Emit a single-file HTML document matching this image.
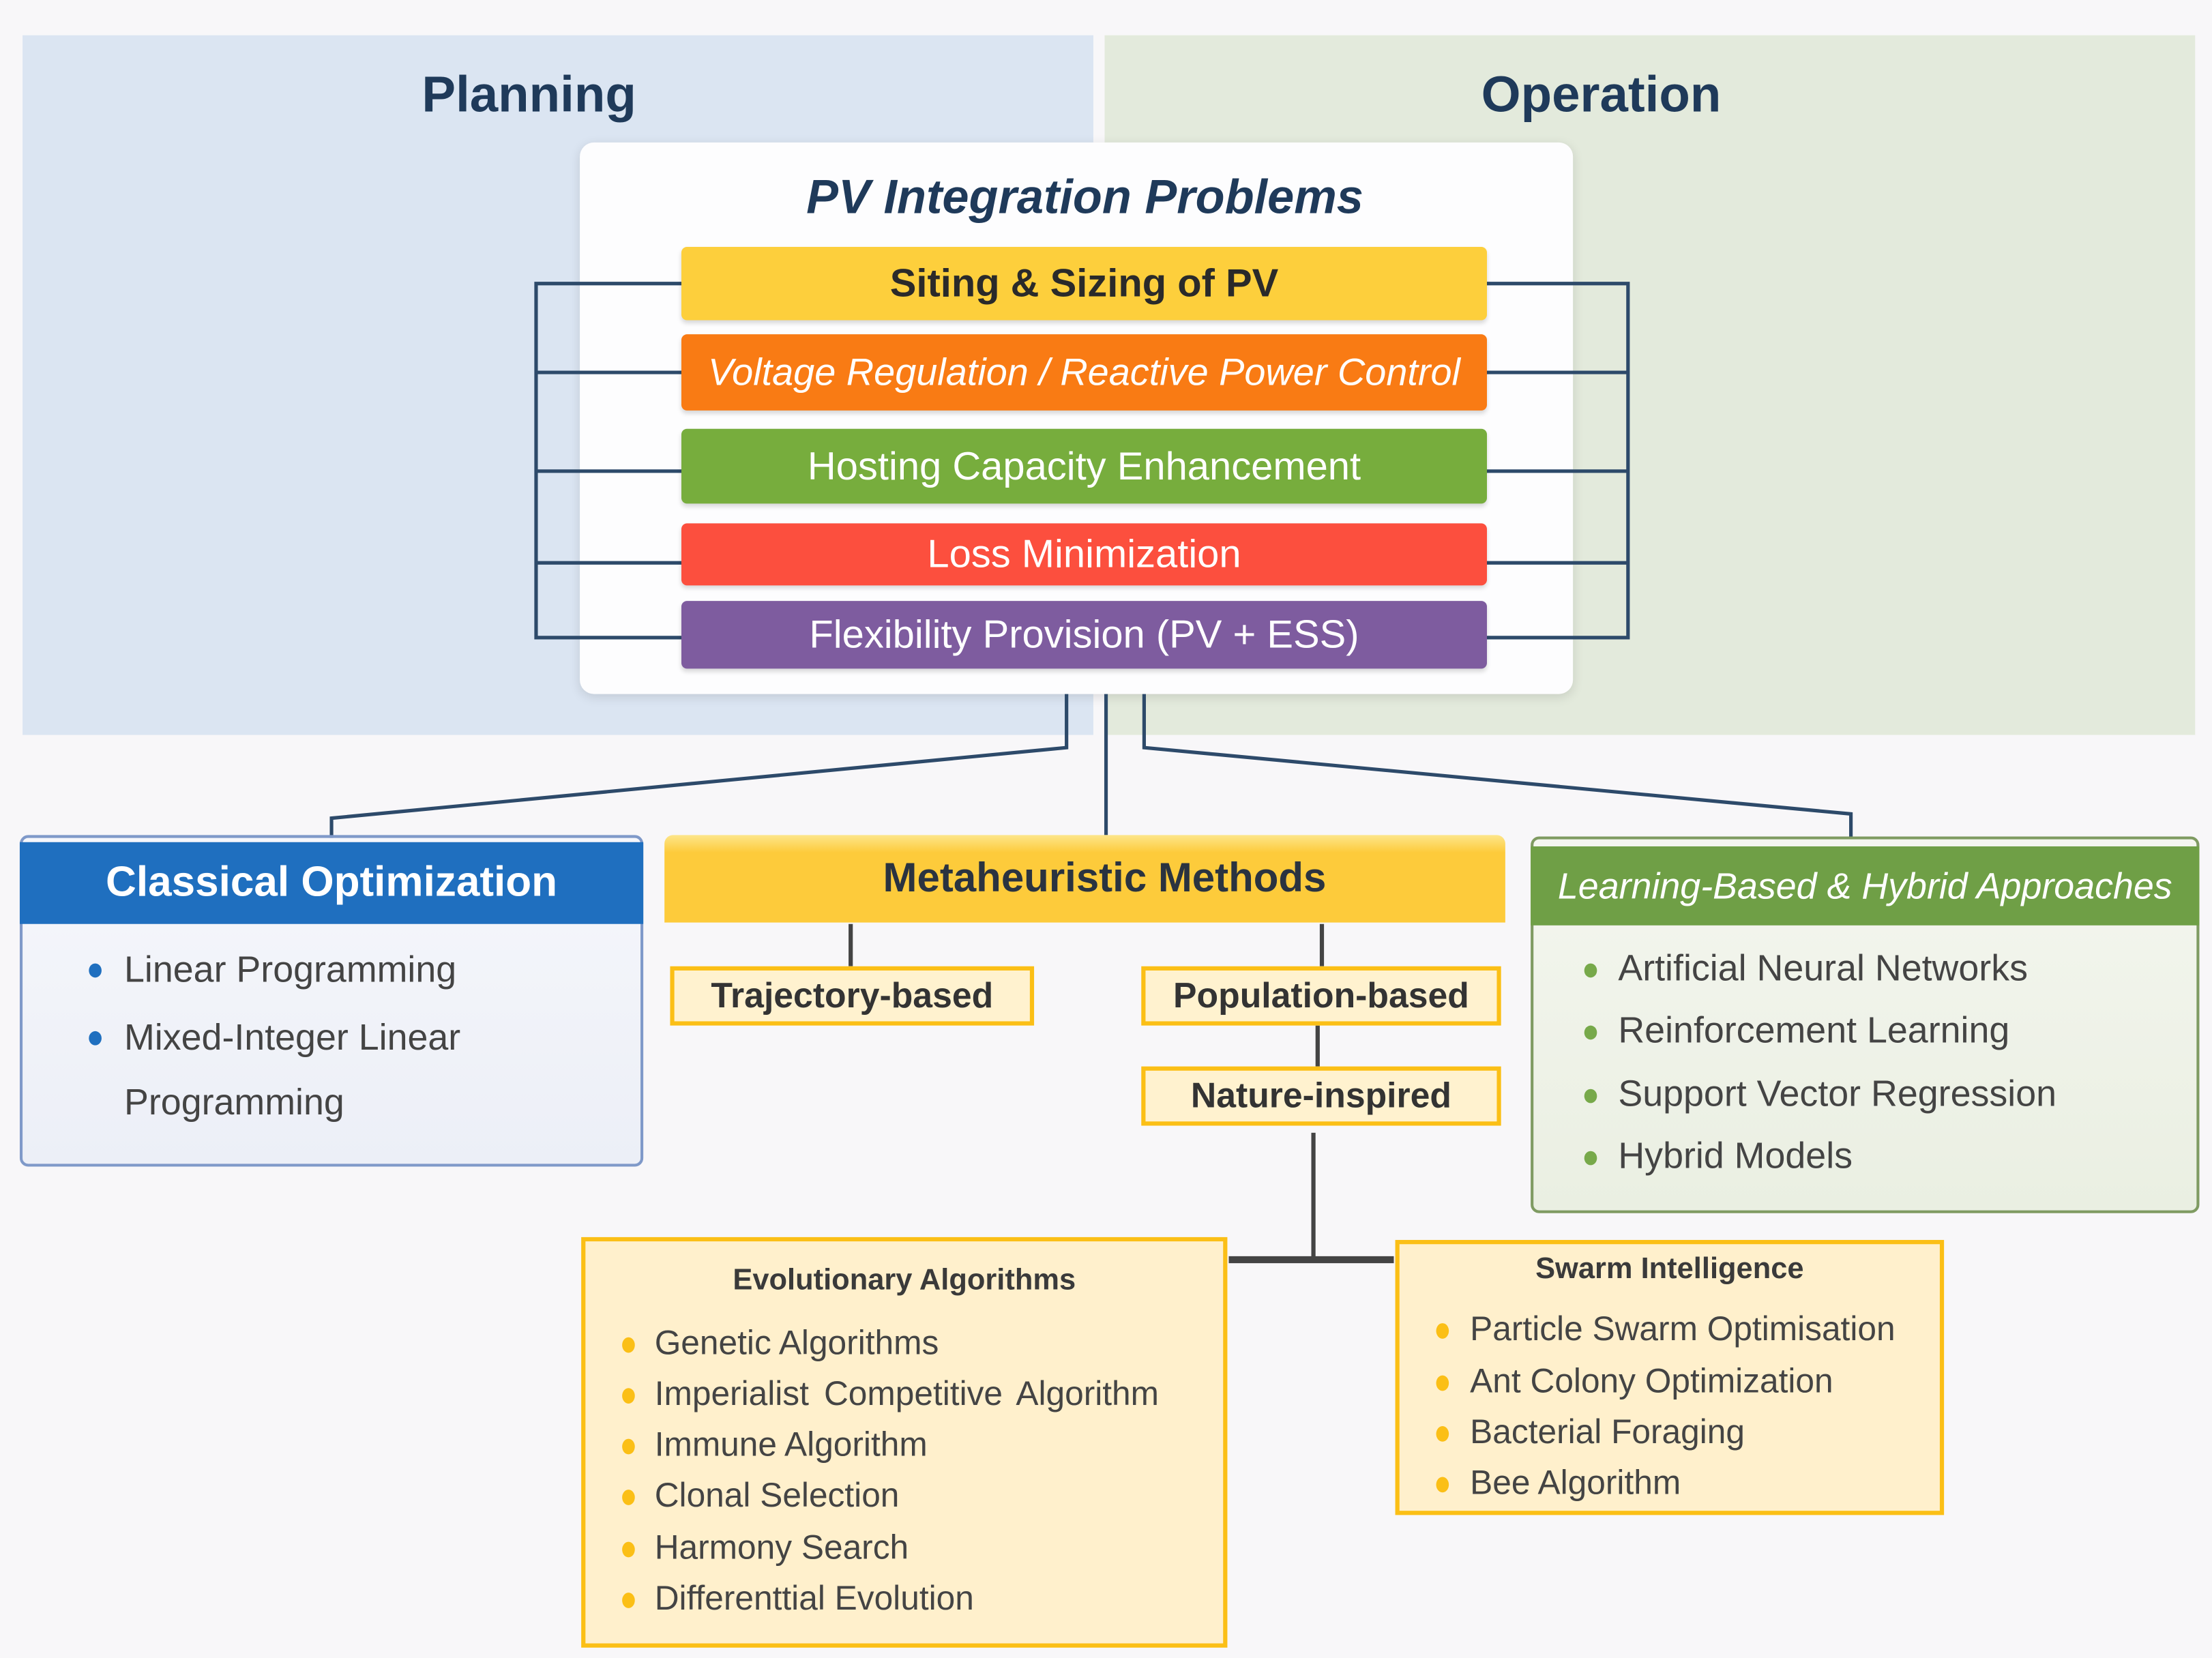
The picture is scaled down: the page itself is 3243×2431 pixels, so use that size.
<!DOCTYPE html>
<html><head><meta charset="utf-8"><style>
html,body{margin:0;padding:0;background:#f8f7f9;}
body{width:3243px;height:2431px;overflow:hidden;position:relative;font-family:"Liberation Sans","DejaVu Sans",sans-serif;}
#s{position:absolute;left:0;top:0;width:1568px;height:1175px;transform:scale(2.0683);transform-origin:0 0;}
.a{position:absolute;box-sizing:border-box;}
.c{display:flex;align-items:center;justify-content:center;}
.bar{left:483px;width:571px;border-radius:4px;font-size:28px;box-shadow:0 2px 3px rgba(0,0,0,.15);}
.it{position:absolute;white-space:nowrap;color:#444;}
</style></head><body><div id="s">
<div class="a" style="left:16px;top:25px;width:759px;height:496px;background:#dbe5f2;"></div>
<div class="a" style="left:783px;top:25px;width:773px;height:496px;background:#e3eadc;"></div>
<div class="a c" style="left:200px;top:44px;width:350px;height:46px;font-size:36px;font-weight:bold;color:#1f3a5a;">Planning</div>
<div class="a c" style="left:960px;top:44px;width:350px;height:46px;font-size:36px;font-weight:bold;color:#1f3a5a;">Operation</div>

<div class="a" style="left:411px;top:101px;width:704px;height:391px;background:#fdfdfe;border-radius:10px;box-shadow:0 2px 8px rgba(0,0,0,.12);"></div>

<svg class="a" style="left:0;top:0" width="1568" height="1175">
<g stroke="#2d4a6a" stroke-width="2.5" fill="none">
<path d="M483 201H380V452H483M380 264H483M380 334H483M380 399H483"/>
<path d="M1054 201H1154V452H1054M1154 264H1054M1154 334H1054M1154 399H1054"/>
<path d="M756 492V530L235 580V595"/>
<path d="M784 492V592"/>
<path d="M811 492V530L1312 577V594"/>
</g>
<g stroke="#444" stroke-width="3" fill="none">
<path d="M603 655V685M937 655V685M934 727V756M931 803V893"/>
<path d="M871 893H988" stroke-width="5"/>
</g>
</svg>

<div class="a c" style="left:411px;top:116px;width:716px;height:48px;font-size:34px;font-weight:bold;font-style:italic;color:#1f3a5a;">PV Integration Problems</div>
<div class="a c bar" style="top:175px;height:52px;background:#fdcf3c;color:#2a2a2a;font-weight:bold;">Siting &amp; Sizing of PV</div>
<div class="a c bar" style="top:237px;height:54px;background:#f97b14;color:#fff;font-style:italic;font-size:27px;">Voltage Regulation / Reactive Power Control</div>
<div class="a c bar" style="top:304px;height:53px;background:#77ad3d;color:#fff;">Hosting Capacity Enhancement</div>
<div class="a c bar" style="top:371px;height:44px;background:#fc4f3e;color:#fff;">Loss Minimization</div>
<div class="a c bar" style="top:426px;height:48px;background:#7e5c9f;color:#fff;">Flexibility Provision (PV + ESS)</div>

<!-- Classical -->
<div class="a" style="left:14px;top:592px;width:442px;height:235px;background:linear-gradient(#f6f7fb,#eceff7);border:2px solid #7f99c9;border-radius:6px;"></div>
<div class="a c" style="left:14px;top:597px;width:442px;height:58px;background:#1f6fbf;color:#fff;font-size:30px;font-weight:bold;">Classical Optimization</div>
<div style="font-size:26px;">
<div class="it" style="left:88px;top:672px;">Linear Programming</div>
<div class="it" style="left:88px;top:720px;">Mixed-Integer Linear</div>
<div class="it" style="left:88px;top:766px;">Programming</div>
</div>
<div class="a" style="left:63px;top:683px;width:9px;height:10px;border-radius:50%;background:#1f6fbf;"></div>
<div class="a" style="left:63px;top:731px;width:9px;height:10px;border-radius:50%;background:#1f6fbf;"></div>

<!-- Metaheuristic -->
<div class="a" style="left:471px;top:592px;width:596px;height:62px;background:linear-gradient(#fde58a,#fdcb3b 20%);border-radius:6px 6px 0 0;"></div>
<div class="a c" style="left:583px;top:592px;width:400px;height:62px;color:#2a3340;font-size:29px;font-weight:bold;">Metaheuristic Methods</div>
<div class="a c" style="left:475px;top:685px;width:258px;height:42px;background:#fff2cf;border:3px solid #fbbf16;font-size:25px;font-weight:bold;color:#333;">Trajectory-based</div>
<div class="a c" style="left:809px;top:685px;width:255px;height:42px;background:#fff2cf;border:3px solid #fbbf16;font-size:25px;font-weight:bold;color:#333;">Population-based</div>
<div class="a c" style="left:809px;top:756px;width:255px;height:42px;background:#fff2cf;border:3px solid #fbbf16;font-size:25px;font-weight:bold;color:#333;">Nature-inspired</div>

<!-- Learning -->
<div class="a" style="left:1085px;top:593px;width:474px;height:267px;background:linear-gradient(#f4f6ef,#eaefe2);border:2px solid #7f9b62;border-radius:6px;"></div>
<div class="a c" style="left:1085px;top:600px;width:474px;height:56px;background:#6f9f46;color:#fff;font-size:26px;font-style:italic;">Learning-Based &amp; Hybrid Approaches</div>
<div style="font-size:26px;">
<div class="it" style="left:1147px;top:671px;">Artificial Neural Networks</div>
<div class="it" style="left:1147px;top:715px;">Reinforcement Learning</div>
<div class="it" style="left:1147px;top:760px;">Support Vector Regression</div>
<div class="it" style="left:1147px;top:804px;">Hybrid Models</div>
</div>
<div class="a" style="left:1123px;top:683px;width:9px;height:10px;border-radius:50%;background:#77a94a;"></div>
<div class="a" style="left:1123px;top:727px;width:9px;height:10px;border-radius:50%;background:#77a94a;"></div>
<div class="a" style="left:1123px;top:772px;width:9px;height:10px;border-radius:50%;background:#77a94a;"></div>
<div class="a" style="left:1123px;top:816px;width:9px;height:10px;border-radius:50%;background:#77a94a;"></div>

<!-- Evolutionary -->
<div class="a" style="left:412px;top:877px;width:458px;height:291px;background:#fff0cc;border:3px solid #fbbf16;"></div>
<div class="a c" style="left:412px;top:894px;width:458px;height:28px;font-size:21px;font-weight:bold;color:#3a3a3a;">Evolutionary Algorithms</div>
<div style="font-size:24px;">
<div class="it" style="left:464px;top:939px;">Genetic Algorithms</div>
<div class="it" style="left:464px;top:975px;word-spacing:4px;">Imperialist Competitive Algorithm</div>
<div class="it" style="left:464px;top:1011px;">Immune Algorithm</div>
<div class="it" style="left:464px;top:1047px;">Clonal Selection</div>
<div class="it" style="left:464px;top:1084px;">Harmony Search</div>
<div class="it" style="left:464px;top:1120px;">Differenttial Evolution</div>
</div>
<div class="a" style="left:441px;top:948px;width:9px;height:11px;border-radius:50%;background:#fbbf16;"></div>
<div class="a" style="left:441px;top:984px;width:9px;height:11px;border-radius:50%;background:#fbbf16;"></div>
<div class="a" style="left:441px;top:1020px;width:9px;height:11px;border-radius:50%;background:#fbbf16;"></div>
<div class="a" style="left:441px;top:1056px;width:9px;height:11px;border-radius:50%;background:#fbbf16;"></div>
<div class="a" style="left:441px;top:1093px;width:9px;height:11px;border-radius:50%;background:#fbbf16;"></div>
<div class="a" style="left:441px;top:1129px;width:9px;height:11px;border-radius:50%;background:#fbbf16;"></div>

<!-- Swarm -->
<div class="a" style="left:989px;top:879px;width:389px;height:195px;background:#fff0cc;border:3px solid #fbbf16;"></div>
<div class="a c" style="left:989px;top:886px;width:389px;height:28px;font-size:21px;font-weight:bold;color:#3a3a3a;">Swarm Intelligence</div>
<div style="font-size:24px;">
<div class="it" style="left:1042px;top:929px;">Particle Swarm Optimisation</div>
<div class="it" style="left:1042px;top:966px;">Ant Colony Optimization</div>
<div class="it" style="left:1042px;top:1002px;">Bacterial Foraging</div>
<div class="it" style="left:1042px;top:1038px;">Bee Algorithm</div>
</div>
<div class="a" style="left:1018px;top:938px;width:9px;height:11px;border-radius:50%;background:#fbbf16;"></div>
<div class="a" style="left:1018px;top:975px;width:9px;height:11px;border-radius:50%;background:#fbbf16;"></div>
<div class="a" style="left:1018px;top:1011px;width:9px;height:11px;border-radius:50%;background:#fbbf16;"></div>
<div class="a" style="left:1018px;top:1047px;width:9px;height:11px;border-radius:50%;background:#fbbf16;"></div>
</div></body></html>
